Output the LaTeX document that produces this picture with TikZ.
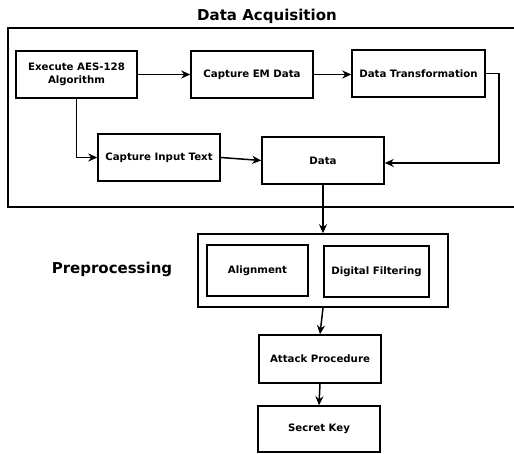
\documentclass[tikz,border=0pt]{standalone}
\usepackage{fontspec}
\setmainfont{DejaVu Sans}
\usetikzlibrary{arrows.meta}
\begin{document}
\begin{tikzpicture}[x=1pt,y=-1pt,
  box/.style={draw,line width=1.5pt,fill=white,inner sep=0pt,font=\bfseries\fontsize{10.2}{12.5}\selectfont,align=center},
  conn/.style={line width=1.5pt,-{Stealth[length=9pt,width=8pt]}},
  line/.style={line width=1.5pt}]
\clip (0,0) rectangle (514,454);
\useasboundingbox (0,0) rectangle (514,454);
\node (title) at (267,16) {\bfseries\fontsize{15}{18}\selectfont Data Acquisition};
\draw[line] (8,28) rectangle (530,207);
\node[box,minimum width=121pt,minimum height=47pt] (exec) at (76.5,74.5) {Execute AES-128\\Algorithm};
\node[box,minimum width=122pt,minimum height=47pt] (em) at (252,74.5) {Capture EM Data};
\node[box,minimum width=133pt,minimum height=47pt] (dt) at (418.5,73.5) {Data Transformation};
\node[box,minimum width=122pt,minimum height=47pt] (cit) at (159,157.5) {Capture Input Text};
\node[box,minimum width=122pt,minimum height=47pt] (data) at (323,160.5) {Data};
\draw[conn] (exec.east) -- (em.west);
\draw[conn] (em.east) -- (dt.west |- em.east);
\draw[conn] (exec.south) |- (cit.west);
\draw[conn] (cit.east) -- (data.west);
\coordinate (dtc) at (499,163);
\draw[conn] (dt.east) -| (dtc) -- (data.east |- dtc);
\node[draw,line width=1.5pt,minimum width=250pt,minimum height=73pt,inner sep=0pt] (pre) at (323,270.5) {};
\node[box,minimum width=101pt,minimum height=51pt] (align) at (257.5,270.5) {Alignment};
\node[box,minimum width=105pt,minimum height=51pt] (filt) at (376.5,271.5) {Digital Filtering};
\node (prelabel) at (112,269) {\bfseries\fontsize{15}{18}\selectfont Preprocessing};
\draw[conn] (data.south) -- (pre.north);
\node[box,minimum width=122pt,minimum height=48pt] (attack) at (320,359) {Attack Procedure};
\node[box,minimum width=122pt,minimum height=46pt] (key) at (319,429) {Secret Key};
\draw[conn] (pre.south) -- (attack.north);
\draw[conn] (attack.south) -- (key.north);
\end{tikzpicture}
\end{document}
